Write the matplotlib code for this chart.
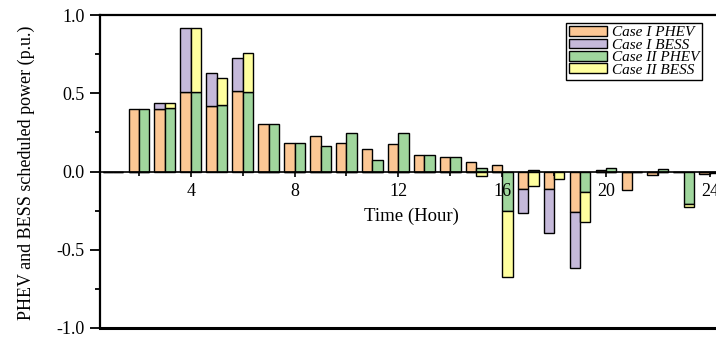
import numpy as np
import matplotlib
matplotlib.use('Agg')
import matplotlib.pyplot as plt
from matplotlib.ticker import MultipleLocator, FormatStrFormatter

hours = np.arange(1, 25)

# scheduled power per hour (p.u.)
case1_phev = [0.0, 0.40, 0.40, 0.51, 0.42, 0.515, 0.305, 0.18, 0.225, 0.185, 0.145, 0.175,
              0.105, 0.09, 0.06, 0.04, -0.11, -0.115, -0.26, 0.01, -0.12, -0.02, 0.0, -0.015]
case1_bess = [0.0, 0.0, 0.035, 0.41, 0.21, 0.21, 0.0, 0.0, 0.0, 0.0, 0.0, 0.0,
              0.0, 0.0, 0.0, 0.0, -0.155, -0.275, -0.355, 0.0, 0.0, 0.0, 0.0, 0.0]
case2_phev = [0.0, 0.40, 0.405, 0.51, 0.425, 0.505, 0.305, 0.18, 0.165, 0.245, 0.075, 0.245,
              0.105, 0.09, 0.025, -0.255, 0.012, -0.005, -0.13, 0.02, 0.0, 0.015, -0.205, -0.01]
case2_bess = [0.0, 0.0, 0.03, 0.41, 0.175, 0.255, 0.0, 0.0, 0.0, 0.0, 0.0, 0.0,
              0.0, 0.0, -0.03, -0.42, -0.09, -0.042, -0.195, 0.0, 0.0, 0.0, -0.023, 0.0]

labels = ['Case I PHEV', 'Case I BESS', 'Case II PHEV', 'Case II BESS']
colors = ['#FCC794', '#C5B9DA', '#A0D69D', '#FFFF9E']

serif = 'Liberation Serif'
plt.rcParams['font.family'] = serif


def stack_base(phev, bess):
    # BESS sits on top of PHEV when both push the same way, otherwise starts at zero
    phev = np.asarray(phev)
    bess = np.asarray(bess)
    same = np.sign(phev) == np.sign(bess)
    return np.where(same, phev, 0.0)


fig = plt.figure(figsize=(7.16, 3.39), dpi=100)
ax = fig.add_axes([100 / 716, 11 / 339, 630 / 716, 313 / 339])

w = 0.4
edge = dict(edgecolor='black', linewidth=1.0)
ax.bar(hours, case1_phev, align='edge', width=-w, color=colors[0], label=labels[0], **edge)
ax.bar(hours, case1_bess, align='edge', width=-w, bottom=stack_base(case1_phev, case1_bess),
       color=colors[1], label=labels[1], **edge)
ax.bar(hours, case2_phev, align='edge', width=w, color=colors[2], label=labels[2], **edge)
ax.bar(hours, case2_bess, align='edge', width=w, bottom=stack_base(case2_phev, case2_bess),
       color=colors[3], label=labels[3], **edge)

ax.set_xlim(0.5, 24.78)
ax.set_ylim(-1.0, 1.0)

# x axis runs through zero, frame kept on the other sides
ax.spines['bottom'].set_position(('data', 0))
ax.spines['bottom'].set_linewidth(1.2)
ax.spines['right'].set_visible(False)
for s in ['left', 'top']:
    ax.spines[s].set_linewidth(1.6)
ax.axhline(-1.0, color='black', linewidth=2.2, clip_on=False)

ax.set_xticks([4, 8, 12, 16, 20, 24])
ax.xaxis.set_minor_locator(MultipleLocator(2))
ax.yaxis.set_major_locator(MultipleLocator(0.5))
ax.yaxis.set_minor_locator(MultipleLocator(0.25))
ax.yaxis.set_major_formatter(FormatStrFormatter('%.1f'))

ax.tick_params(axis='x', which='major', direction='out', length=3.5, width=1.2,
               labelsize=13, pad=5)
ax.tick_params(axis='x', which='minor', direction='out', length=3, width=1.2)
ax.tick_params(axis='y', which='major', direction='out', length=7, width=1.3,
               labelsize=13, pad=4)
ax.tick_params(axis='y', which='minor', direction='out', length=3.5, width=1.3)

fig.text(411 / 716, 1 - 216 / 339, 'Time (Hour)', ha='center', va='center', fontsize=13.5)
fig.text(26 / 716, 1 - 173 / 339, 'PHEV and BESS scheduled power (p.u.)', rotation=90,
         ha='center', va='center', fontsize=13)

leg = ax.legend(loc='upper left', bbox_to_anchor=(566 / 716, 1 - 23 / 339),
                bbox_transform=fig.transFigure, borderaxespad=0, fancybox=False,
                framealpha=1, edgecolor='black',
                prop={'family': serif, 'style': 'italic', 'size': 11},
                handlelength=2.5, handleheight=0.6, handletextpad=0.3, labelspacing=-0.05,
                borderpad=0.2)
leg.get_frame().set_linewidth(1.0)

fig.savefig('out.png', dpi=100)
